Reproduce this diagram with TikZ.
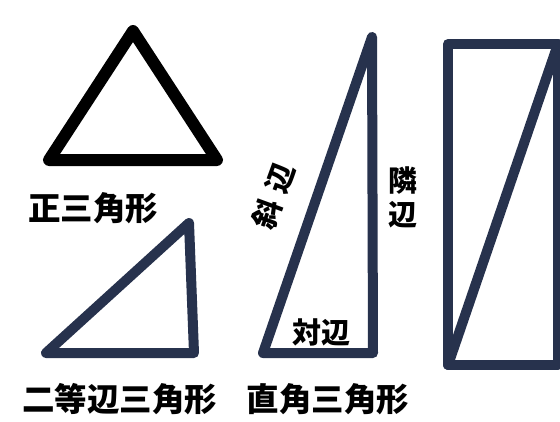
\documentclass[tikz,border=0pt]{standalone}
\usepackage{fontspec}
\newfontfamily\jp{Noto Sans CJK JP}
\definecolor{navy}{HTML}{27324D}
\begin{document}
\begin{tikzpicture}[x=1pt,y=-1pt,
  shapeline/.style={line width=10pt,line join=round,line cap=round,draw=navy},
  lbl/.style={font=\jp\bfseries\fontsize{32.5}{32.5}\selectfont,inner sep=0pt,text=black},
  small/.style={font=\jp\bfseries\fontsize{29}{29}\selectfont,inner sep=0pt,text=black}]
\useasboundingbox[fill=white] (0,0) rectangle (560,421);
% equilateral triangle
\coordinate (e1) at (133,31);
\coordinate (e2) at (49,160);
\coordinate (e3) at (217,160);
\draw[shapeline,draw=black,line width=12pt] (e1) -- (e2) -- (e3) -- cycle;
\node[lbl] (t1) at (93,208) {正三角形};
% isosceles
\coordinate (i1) at (189,223);
\coordinate (i2) at (46,353);
\coordinate (i3) at (194,353);
\draw[shapeline] (i1) -- (i2) -- (i3) -- cycle;
\node[lbl] (t2) at (120,399) {二等辺三角形};
% right triangle
\coordinate (r1) at (372,37);
\coordinate (r2) at (263,353);
\coordinate (r3) at (373,353);
\draw[shapeline] (r1) -- (r2) -- (r3) -- cycle;
\node[lbl] (t3) at (328,399) {直角三角形};
\node[small] (opp) at (321,332) {対辺};
\node[small,rotate=70] (hyp1) at (267,214) {斜};
\node[small,rotate=70] (hyp2) at (280,178) {辺};
\node[small] (adj1) at (403,181) {隣};
\node[small] (adj2) at (403,215) {辺};
% rectangle with diagonal
\coordinate (q1) at (448,44);
\coordinate (q2) at (448,365);
\coordinate (q3) at (558,365);
\coordinate (q4) at (558,44);
\draw[shapeline] (q4) -- (q1) -- (q2) -- (q3) -- cycle;
\draw[shapeline] (q2) -- (q4);
\end{tikzpicture}
\end{document}
